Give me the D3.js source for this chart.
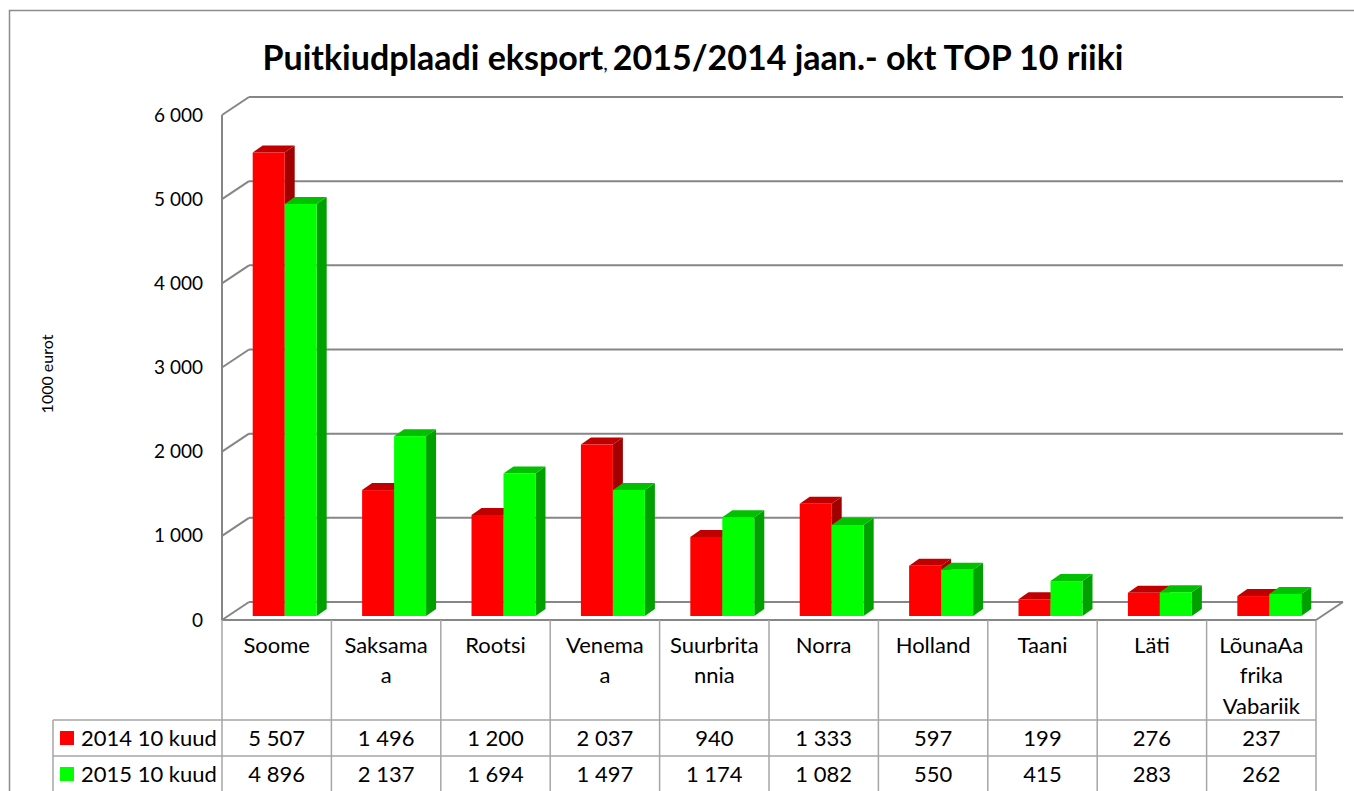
<!DOCTYPE html>
<html lang="et">
<head>
  <meta charset="UTF-8">
  <title>Puitkiudplaadi eksport</title>
  <script src="https://cdn.jsdelivr.net/npm/d3@7/dist/d3.min.js"></script>
  <style>
    body { margin: 0; padding: 0; background: #fff; }
    svg { display: block; font-family: Lato, "Open Sans", sans-serif; }
  </style>
</head>
<body>
  <svg id="chart" width="1354" height="791"></svg>

  <script>
    const categories = ["Soome", "Saksamaa", "Rootsi", "Venemaa", "Suurbritannia",
      "Norra", "Holland", "Taani", "Läti", "LõunaAafrika Vabariik"];
    // how the category names wrap in the table header
    const categoryLabelLines = [["Soome"], ["Saksama", "a"], ["Rootsi"], ["Venema", "a"],
      ["Suurbrita", "nnia"], ["Norra"], ["Holland"], ["Taani"], ["Läti"],
      ["LõunaAa", "frika", "Vabariik"]];
    const seriesNames = ["2014 10 kuud", "2015 10 kuud"];
    const values2014 = [5507, 1496, 1200, 2037, 940, 1333, 597, 199, 276, 237];
    const values2015 = [4896, 2137, 1694, 1497, 1174, 1082, 550, 415, 283, 262];
    const yTicks = [0, 1000, 2000, 3000, 4000, 5000, 6000];

    const colors = [
      { front: "#ff0000", top: "#c00000", side: "#a00000" },
      { front: "#00ff00", top: "#00c000", side: "#00a000" }
    ];

    const svg = d3.select("#chart");
    const fmt = d3.formatLocale({ decimal: ",", thousands: "\u00a0", grouping: [3], currency: ["", " €"] }).format(",d");

    // plot box (front plane)
    const plotLeft = 222, plotRight = 1316, plotBottom = 620, plotTop = 115;
    const depthX = 27, depthY = 18;      // offset of the back wall
    const barDx = 8, barDy = 4;          // bars sit a bit behind the front edge
    const barDepthX = 10, barDepthY = 7; // thickness of the bars

    const x = d3.scaleBand().domain(categories).range([plotLeft, plotRight]);
    const xs = d3.scaleBand().domain(seriesNames).range([0, x.bandwidth()]).paddingOuter(0.71);
    const y = d3.scaleLinear().domain([0, 6000]).range([plotBottom, plotTop]);

    // outer frame
    svg.append("rect")
      .attr("x", 9.5).attr("y", 10.5)
      .attr("width", 1360).attr("height", 800)
      .attr("fill", "none").attr("stroke", "#8c8c8c").attr("stroke-width", 1.5);

    // title
    const title = svg.append("text")
      .attr("x", 693).attr("y", 70)
      .attr("text-anchor", "middle")
      .attr("font-size", 34).attr("font-weight", "bold").attr("fill", "#000");
    title.append("tspan").text("Puitkiudplaadi eksport");
    title.append("tspan").attr("font-size", 20).attr("font-weight", "normal").text(", ");
    title.append("tspan").text("2015/2014 jaan.- okt TOP 10 riiki");

    // gridlines on back wall + left wall diagonals
    const grid = svg.append("g").attr("stroke", "#868686").attr("stroke-width", 2).attr("fill", "none");
    yTicks.forEach(t => {
      grid.append("line")
        .attr("x1", plotLeft + depthX).attr("x2", plotRight + depthX)
        .attr("y1", y(t) - depthY).attr("y2", y(t) - depthY);
      grid.append("line")
        .attr("x1", plotLeft).attr("x2", plotLeft + depthX)
        .attr("y1", y(t)).attr("y2", y(t) - depthY);
    });
    // left axis edge and floor
    grid.append("line").attr("x1", plotLeft).attr("x2", plotLeft).attr("y1", y(6000)).attr("y2", plotBottom);
    grid.append("line").attr("x1", plotLeft).attr("x2", plotRight).attr("y1", plotBottom).attr("y2", plotBottom);
    grid.append("line").attr("x1", plotRight + depthX).attr("x2", plotRight)
      .attr("y1", plotBottom - depthY).attr("y2", plotBottom);

    // y axis labels
    const yAxis = svg.append("g")
      .attr("transform", `translate(${plotLeft},0)`)
      .call(d3.axisLeft(y).tickValues(yTicks).tickSize(0).tickPadding(19).tickFormat(fmt));
    yAxis.select(".domain").remove();
    yAxis.selectAll("text").attr("font-size", 19).attr("font-family", "Lato, sans-serif").attr("fill", "#000");

    svg.append("text")
      .attr("transform", "translate(53,374) rotate(-90)")
      .attr("text-anchor", "middle")
      .attr("font-size", 16).attr("fill", "#000")
      .text("1000 eurot");

    // 3D bars, drawn left to right so nearer faces cover the previous ones
    const seriesValues = [values2014, values2015];
    const bars = svg.append("g");
    categories.forEach((c, i) => {
      seriesNames.forEach((s, k) => {
        const v = seriesValues[k][i];
        const x0 = x(c) + xs(s) + barDx;
        const x1 = x0 + xs.bandwidth();
        const yb = y(0) - barDy;
        const yt = y(v) - barDy;
        const col = colors[k];
        bars.append("path")
          .attr("fill", col.side)
          .attr("d", `M${x1},${yt}L${x1 + barDepthX},${yt - barDepthY}L${x1 + barDepthX},${yb - barDepthY}L${x1},${yb}Z`);
        bars.append("path")
          .attr("fill", col.top)
          .attr("d", `M${x0},${yt}L${x0 + barDepthX},${yt - barDepthY}L${x1 + barDepthX},${yt - barDepthY}L${x1},${yt}Z`);
        bars.append("rect")
          .attr("fill", col.front)
          .attr("x", x0).attr("y", yt)
          .attr("width", x1 - x0).attr("height", yb - yt);
      });
    });

    // data table
    const rowTop = 620, headerBottom = 720, rowH = 36, legendLeft = 53;
    const table = svg.append("g").attr("stroke", "#a6a6a6").attr("stroke-width", 1.5);
    categories.forEach(c => {
      table.append("line").attr("x1", x(c) + x.bandwidth()).attr("x2", x(c) + x.bandwidth())
        .attr("y1", rowTop).attr("y2", 800);
    });
    table.append("line").attr("x1", plotLeft).attr("x2", plotLeft).attr("y1", rowTop).attr("y2", 800);
    table.append("line").attr("x1", legendLeft).attr("x2", legendLeft).attr("y1", headerBottom).attr("y2", 800);
    [headerBottom, headerBottom + rowH].forEach(ry => {
      table.append("line").attr("x1", legendLeft).attr("x2", plotRight).attr("y1", ry).attr("y2", ry);
    });

    const labels = svg.append("g").attr("font-size", 22).attr("fill", "#000").attr("text-anchor", "middle");
    categories.forEach((c, i) => {
      categoryLabelLines[i].forEach((line, j) => {
        labels.append("text")
          .attr("x", x(c) + x.bandwidth() / 2)
          .attr("y", 645 + j * 30.5)
          .attr("dy", "0.35em")
          .text(line);
      });
      seriesNames.forEach((s, k) => {
        labels.append("text")
          .attr("x", x(c) + x.bandwidth() / 2)
          .attr("y", headerBottom + rowH / 2 + k * rowH)
          .attr("dy", "0.35em")
          .text(fmt(seriesValues[k][i]));
      });
    });

    seriesNames.forEach((s, k) => {
      const cy = headerBottom + rowH / 2 + k * rowH;
      svg.append("rect")
        .attr("x", 60).attr("y", cy - 7)
        .attr("width", 14).attr("height", 14)
        .attr("fill", colors[k].front);
      svg.append("text")
        .attr("x", 81).attr("y", cy).attr("dy", "0.35em")
        .attr("font-size", 22).attr("fill", "#000")
        .text(s);
    });
  </script>
</body>
</html>
